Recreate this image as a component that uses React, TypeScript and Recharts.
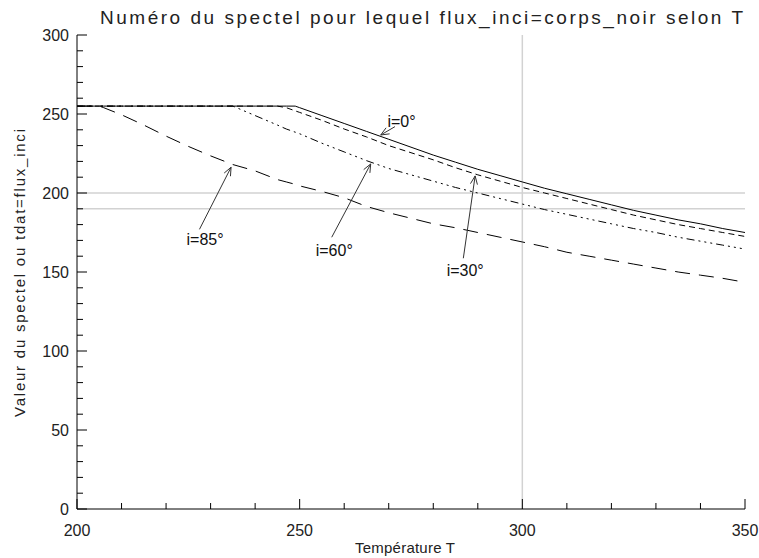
import React from "react";
import {
  LineChart,
  Line,
  XAxis,
  YAxis,
  ReferenceLine,
  ReferenceDot,
} from "recharts";

// Temperature samples (K)
const temperatures = [
  200, 205, 206, 210, 215, 220, 225, 230, 235, 240, 245, 247, 249, 250,
  255, 260, 265, 270, 275, 280, 285, 290, 295, 300, 305, 310, 315, 320, 325,
  330, 335, 340, 345, 350,
];

// Spectel number for each incidence angle
const seriesI0 = [
  255, 255, 255, 255, 255, 255, 255, 255, 255, 255, 255, 255, 255, 254,
  249, 244, 239, 234, 229, 224, 219.5, 215, 211, 207, 203, 199.5, 196, 192.5,
  189, 186, 183, 180.5, 177.5, 175,
];
const seriesI30 = [
  255, 255, 255, 255, 255, 255, 255, 255, 255, 255, 255, 254, 252, 251,
  246, 240.5, 235.5, 230, 225.5, 221, 216, 211.5, 207.5, 203.5, 200, 196.5,
  193, 189.5, 186, 183, 180, 177.5, 175, 172.5,
];
const seriesI60 = [
  255, 255, 255, 255, 255, 255, 255, 255, 255, 249, 243, 240.5, 238.5, 237.5,
  231.5, 226, 220.5, 215.5, 211.5, 207.5, 203.5, 200, 196.5, 193, 189.5,
  186.5, 183.5, 180.5, 177.5, 175, 172, 169.5, 167, 164.5,
];
const seriesI85 = [
  255, 255, 254, 249.5, 243, 236, 229.5, 223.5, 218, 214, 208.5, 207, 205.5,
  204.5, 201, 197, 191.5, 187.5, 184, 180.5, 178, 175, 172, 169, 166, 162.5,
  160, 157.5, 155, 152.5, 150, 148, 146, 143.5,
];

const xTicks = [200, 210, 220, 230, 240, 250, 260, 270, 280, 290, 300, 310, 320, 330, 340, 350];
const yTicks = [
  0, 10, 20, 30, 40, 50, 60, 70, 80, 90, 100, 110, 120, 130, 140, 150, 160,
  170, 180, 190, 200, 210, 220, 230, 240, 250, 260, 270, 280, 290, 300,
];

// Annotations: label text, label anchor (T, value), arrow tail and arrow head
const annotationLabels = ["i=0°", "i=85°", "i=60°", "i=30°"];
const labelT = [269.7, 224.6, 253.6, 283.0];
const labelV = [241.8, 167.1, 160.1, 147.5];
const arrowFromT = [271.4, 227.5, 257.2, 286.75];
const arrowFromV = [242.0, 177.0, 172.0, 158.7];
const arrowToT = [268.2, 234.6, 265.95, 289.4];
const arrowToV = [236.7, 216.3, 218.4, 210.8];

const guideY = [200, 190];
const guideX = [300];

const data = temperatures.map((t, i) => ({
  t,
  i0: seriesI0[i],
  i30: seriesI30[i],
  i60: seriesI60[i],
  i85: seriesI85[i],
}));

const FONT = "'Liberation Sans', Arial, sans-serif";
const TEXT = "#222";

const BottomTick = (props: any) => {
  const { x, y, payload } = props;
  const major = payload.value % 50 === 0;
  return (
    <g>
      <line x1={x} x2={x} y1={y} y2={y - (major ? 10 : 6)} stroke="#000" strokeWidth={1} />
      {major && (
        <text x={x} y={y + 27} textAnchor="middle" fontSize={16} fontFamily={FONT} fill={TEXT}>
          {payload.value}
        </text>
      )}
    </g>
  );
};

const TopTick = (props: any) => {
  const { x, y, payload } = props;
  const major = payload.value % 50 === 0;
  return <line x1={x} x2={x} y1={y} y2={y + (major ? 10 : 6)} stroke="#000" strokeWidth={1} />;
};

const LeftTick = (props: any) => {
  const { x, y, payload } = props;
  const major = payload.value % 50 === 0;
  return (
    <g>
      <line x1={x} x2={x + (major ? 10 : 6)} y1={y} y2={y} stroke="#000" strokeWidth={1} />
      {major && (
        <text x={x - 8} y={y + 6} textAnchor="end" fontSize={16} fontFamily={FONT} fill={TEXT}>
          {payload.value}
        </text>
      )}
    </g>
  );
};

const RightTick = (props: any) => {
  const { x, y, payload } = props;
  const major = payload.value % 50 === 0;
  return <line x1={x} x2={x - (major ? 10 : 6)} y1={y} y2={y} stroke="#000" strokeWidth={1} />;
};

const ArrowShape = (props: any) => {
  const { x1, y1, x2, y2 } = props;
  const ang = Math.atan2(y2 - y1, x2 - x1);
  const L = 9;
  const a1 = ang + Math.PI - 0.4;
  const a2 = ang + Math.PI + 0.4;
  return (
    <g stroke="#333" strokeWidth={1} fill="none">
      <line x1={x1} y1={y1} x2={x2} y2={y2} />
      <line x1={x2} y1={y2} x2={x2 + L * Math.cos(a1)} y2={y2 + L * Math.sin(a1)} />
      <line x1={x2} y1={y2} x2={x2 + L * Math.cos(a2)} y2={y2 + L * Math.sin(a2)} />
    </g>
  );
};

const makeLabelShape = (text: string) => (props: any) => (
  <text x={props.cx} y={props.cy} fontSize={16} fontFamily={FONT} fill="#111">
    {text}
  </text>
);

export default function App() {
  return (
    <div style={{ position: "absolute", left: 0, top: 0, width: 759, height: 558, background: "#fff" }}>
      <LineChart
        width={759}
        height={558}
        data={data}
        margin={{ top: 35, right: 14, bottom: 0, left: 0 }}
      >
        <XAxis
          xAxisId="b"
          dataKey="t"
          type="number"
          domain={[200, 350]}
          ticks={xTicks}
          interval={0}
          height={49}
          tickSize={0}
          tickMargin={0}
          tickLine={false}
          axisLine={{ stroke: "#000" }}
          tick={BottomTick}
          allowDataOverflow
        />
        <XAxis
          xAxisId="t"
          orientation="top"
          dataKey="t"
          type="number"
          domain={[200, 350]}
          ticks={xTicks}
          interval={0}
          height={0}
          tickSize={0}
          tickMargin={0}
          tickLine={false}
          axisLine={{ stroke: "#000" }}
          tick={TopTick}
          allowDataOverflow
        />
        <YAxis
          yAxisId="l"
          type="number"
          domain={[0, 300]}
          ticks={yTicks}
          interval={0}
          width={77}
          tickSize={0}
          tickMargin={0}
          tickLine={false}
          axisLine={{ stroke: "#000" }}
          tick={LeftTick}
          allowDataOverflow
        />
        <YAxis
          yAxisId="r"
          orientation="right"
          type="number"
          domain={[0, 300]}
          ticks={yTicks}
          interval={0}
          width={0}
          tickSize={0}
          tickMargin={0}
          tickLine={false}
          axisLine={{ stroke: "#000" }}
          tick={RightTick}
          allowDataOverflow
        />
        {guideY.map((v) => (
          <ReferenceLine key={"gy" + v} xAxisId="b" yAxisId="l" y={v} stroke="#d2d2d2" strokeWidth={1.5} />
        ))}
        {guideX.map((v) => (
          <ReferenceLine key={"gx" + v} xAxisId="b" yAxisId="l" x={v} stroke="#d2d2d2" strokeWidth={1.5} />
        ))}
        <Line xAxisId="b" yAxisId="l" dataKey="i85" stroke="#000" strokeWidth={1} strokeDasharray="15 9" dot={false} isAnimationActive={false} />
        <Line xAxisId="b" yAxisId="l" dataKey="i60" stroke="#000" strokeWidth={1} strokeDasharray="8 4 2 4 2 4 2 4" dot={false} isAnimationActive={false} />
        <Line xAxisId="b" yAxisId="l" dataKey="i30" stroke="#000" strokeWidth={1} strokeDasharray="6 4" dot={false} isAnimationActive={false} />
        <Line xAxisId="b" yAxisId="l" dataKey="i0" stroke="#000" strokeWidth={1} dot={false} isAnimationActive={false} />
        {annotationLabels.map((txt, i) => (
          <ReferenceLine
            key={"ar" + i}
            xAxisId="b"
            yAxisId="l"
            segment={[
              { x: arrowFromT[i], y: arrowFromV[i] },
              { x: arrowToT[i], y: arrowToV[i] },
            ]}
            shape={ArrowShape}
          />
        ))}
        {annotationLabels.map((txt, i) => (
          <ReferenceDot
            key={"lb" + i}
            xAxisId="b"
            yAxisId="l"
            x={labelT[i]}
            y={labelV[i]}
            r={0}
            shape={makeLabelShape(txt)}
          />
        ))}
      </LineChart>
      <svg
        width={759}
        height={558}
        style={{ position: "absolute", left: 0, top: 0, pointerEvents: "none" }}
      >
        <text x={100} y={24} fontSize={19} fontFamily={FONT} fill={TEXT} textLength={643} lengthAdjust="spacing">
          Numéro du spectel pour lequel flux_inci=corps_noir selon T
        </text>
        <text x={355} y={553} fontSize={15} fontFamily={FONT} fill={TEXT} textLength={100} lengthAdjust="spacing">
          Température T
        </text>
        <text
          x={0}
          y={0}
          fontSize={15}
          fontFamily={FONT}
          fill={TEXT}
          textAnchor="middle"
          textLength={288}
          lengthAdjust="spacing"
          transform="translate(25 273) rotate(-90)"
        >
          Valeur du spectel ou tdat=flux_inci
        </text>
      </svg>
    </div>
  );
}
